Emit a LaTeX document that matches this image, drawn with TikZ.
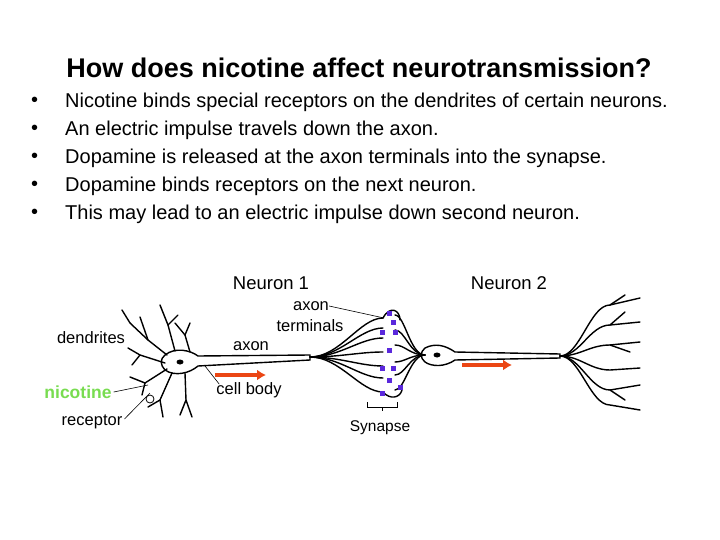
\documentclass[tikz,border=0pt]{standalone}
\usepackage{fontspec}
\setmainfont{Liberation Sans}
\usetikzlibrary{arrows.meta,shapes.geometric}
\begin{document}
\begin{tikzpicture}[x=1pt,y=-1pt,
 lbl/.style={font=\fontsize{16.5}{18}\selectfont,inner sep=0},
 bul/.style={font=\fontsize{20}{22}\selectfont,anchor=west,inner sep=0},
 nv/.style={line width=1.4pt,line cap=round},
 rarr/.style={draw={rgb,255:red,235;green,70;blue,20},line width=3.2pt,-{Latex[length=9pt,width=11pt]}},
 sq/.style={fill={rgb,255:red,90;green,40;blue,220},minimum size=5pt,inner sep=0}]
\useasboundingbox (0,0) rectangle (720,540);
\node[font=\bfseries\fontsize{27}{30}\selectfont] (title) at (359,68) {How does nicotine affect neurotransmission?};
\foreach \t [count=\i] in {Nicotine binds special receptors on the dendrites of certain neurons.,An electric impulse travels down the axon.,Dopamine is released at the axon terminals into the synapse.,Dopamine binds receptors on the next neuron.,This may lead to an electric impulse down second neuron.}{
 \node[bul] (b\i) at (65,74+28*\i) {\t};
 \node[bul] (d\i) at (31,74+28*\i) {\textbullet};}
% neuron 1 soma
\draw[nv,fill=white] (165,355) .. controls (175,347) and (190,350) .. (198,356) -- (310,355) -- (310,360) -- (198,366) .. controls (190,373) and (175,377) .. (165,370) .. controls (160,365) and (160,359) .. (165,355);
\node[fill=black,ellipse,minimum width=7pt,minimum height=5pt,inner sep=0] (n1) at (180,362) {};
% dendrites neuron 1
\begin{scope}[yshift=-5pt]
\draw[nv] (167,350) -- (148,335) -- (130,318);
\draw[nv] (148,335) -- (140,312); \draw[nv] (130,318) -- (122,305);
\draw[nv] (175,346) -- (168,320) -- (160,300); \draw[nv] (168,320) -- (178,310);
\draw[nv] (190,347) -- (185,330) -- (175,318); \draw[nv] (185,330) -- (190,318);
\draw[nv] (165,358) -- (140,350) -- (128,343); \draw[nv] (140,350) -- (132,360);
\draw[nv] (167,364) -- (145,378) -- (130,372); \draw[nv] (145,378) -- (142,390);
\draw[nv] (172,368) -- (160,395) -- (148,402); \draw[nv] (160,395) -- (163,412);
\draw[nv] (185,368) -- (186,395) -- (180,410); \draw[nv] (186,395) -- (192,412);
\draw[line width=0.8pt] (150,394) circle (4pt);
\end{scope}
% terminals neuron 1
\foreach \yy in {318,328,338,352,366,378,392}{
 \draw[nv] (310,357) .. controls (340,357) and (360,\yy) .. (383,\yy);}
% neuron 2
\draw[nv,fill=white] (425,348) .. controls (435,343) and (445,345) .. (455,352) -- (560,354) -- (560,358) -- (455,360) .. controls (445,367) and (432,367) .. (425,362) .. controls (420,358) and (420,352) .. (425,348);
\node[fill=black,ellipse,minimum width=7pt,minimum height=5pt,inner sep=0] (n2) at (437,355) {};
\foreach \yy in {315,330,345,362,375,390}{
 \draw[nv] (425,355) .. controls (410,355) and (405,\yy) .. (395,\yy);}
\draw[nv] (383,318) .. controls (390,305) and (400,310) .. (400,320);
\draw[nv] (383,392) .. controls (390,400) and (400,398) .. (402,390);
% dendrites neuron 2
\foreach \yy/\e in {305/298,325/322,345/342,370/368,390/385,405/410}{
 \draw[nv] (560,356) .. controls (580,356) and (590,\yy) .. (610,\yy) -- (640,\e);}
\draw[nv] (610,305) -- (625,295); \draw[nv] (610,345) -- (630,352);
\draw[nv] (610,390) -- (625,400); \draw[nv] (610,325) -- (625,312);
% vesicles
\foreach \p [count=\k] in {(389,313),(393,322),(382,332),(395,332),(389,350),(382,368),(393,368),(389,380),(400,387),(382,393)}
 \node[sq] (v\k) at \p {};
% arrows
\coordinate (a1s) at (215,375); \coordinate (a1e) at (266,375);
\coordinate (a2s) at (462,365); \coordinate (a2e) at (512,365);
\draw[rarr] (a1s) -- (a1e); \draw[rarr] (a2s) -- (a2e);
% labels
\node[lbl,font=\fontsize{18.5}{20}\selectfont] (neu1) at (271,283) {Neuron 1};
\node[lbl,font=\fontsize{18.5}{20}\selectfont] (neu2) at (509,283) {Neuron 2};
\node[lbl] (lax) at (311,306) {axon};
\node[lbl] (lterm) at (310,326) {terminals};
\node[lbl] (ldend) at (91,338) {dendrites};
\node[lbl] (laxon) at (251,346) {axon};
\node[lbl] (lcb) at (249,390) {cell body};
\node[lbl,font=\bfseries\fontsize{17.5}{19}\selectfont,text={rgb,255:red,120;green,220;blue,80}] (lnic) at (78,392) {nicotine};
\node[lbl] (lrec) at (92,422) {receptor};
\node[lbl,font=\fontsize{15.5}{17}\selectfont] (lsyn) at (380,428) {Synapse};
\coordinate (t1) at (384,318);
\draw[line width=0.6pt] (lax.east) -- (t1);
\draw[line width=0.6pt] (lcb.north west) ++(3,2) -- (205,366);
\draw[line width=0.6pt] (lnic.east) ++(2,0) -- (148,385);
\draw[line width=0.6pt] (lrec.east) ++(2,-3) -- (150,393);
\draw[line width=0.6pt] (367,402) -- (367,407) -- (397,407) -- (397,402) (382,407) -- (382,411);
\end{tikzpicture}
\end{document}
